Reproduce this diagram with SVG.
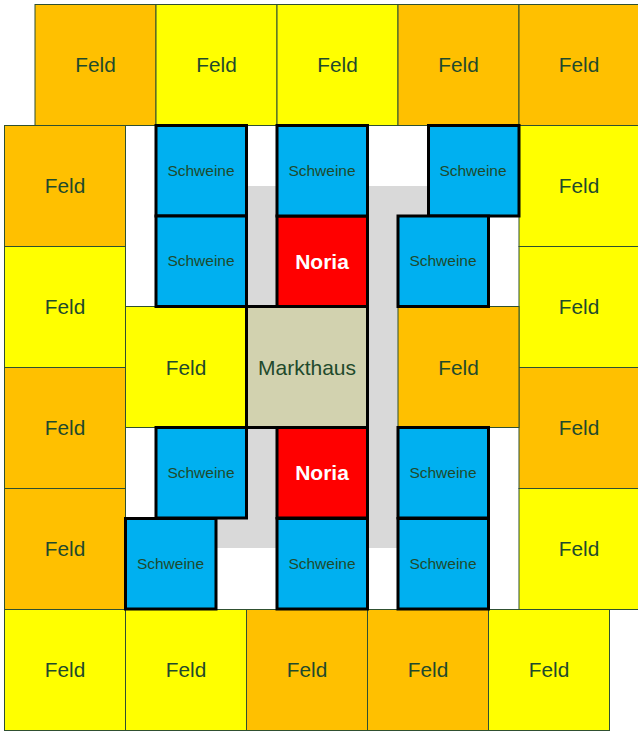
<svg xmlns="http://www.w3.org/2000/svg" width="638" height="731" viewBox="0 0 638 731">
<style>
.f rect{stroke:#2F5030;stroke-width:1}
.o{fill:#FFC000}
.y{fill:#FFFF00}
.s rect{fill:#00B0F0;stroke:#000;stroke-width:3}
.n rect{fill:#FF0000;stroke:#000;stroke-width:3}
.m rect{fill:#D2D2AF;stroke:#000;stroke-width:3}
text{font-family:"Liberation Sans",Arial,sans-serif;text-anchor:middle;dominant-baseline:central;fill:#1F4A2C}
.f text{font-size:20.8px}
.s text{font-size:15.5px}
.n text{font-size:21px;font-weight:bold;fill:#fff}
.m text{font-size:21px}
</style>
<rect width="638" height="731" fill="#fff"/>
<rect id="road" x="216" y="186" width="212" height="362" fill="#D9D9D9"/>
<!-- top row -->
<g id="f1" class="f"><rect class="o" x="35" y="4.5" width="121" height="121"/><text x="95.5" y="64">Feld</text></g>
<g id="f2" class="f"><rect class="y" x="156" y="4.5" width="121" height="121"/><text x="216.5" y="64">Feld</text></g>
<g id="f3" class="f"><rect class="y" x="277" y="4.5" width="121" height="121"/><text x="337.5" y="64">Feld</text></g>
<g id="f4" class="f"><rect class="o" x="398" y="4.5" width="121" height="121"/><text x="458.5" y="64">Feld</text></g>
<g id="f5" class="f"><rect class="o" x="519" y="4.5" width="121" height="121"/><text x="579" y="64">Feld</text></g>
<!-- left column -->
<g id="f6" class="f"><rect class="o" x="4.5" y="125.5" width="121" height="121"/><text x="65" y="185">Feld</text></g>
<g id="f7" class="f"><rect class="y" x="4.5" y="246.5" width="121" height="121"/><text x="65" y="306">Feld</text></g>
<g id="f8" class="f"><rect class="o" x="4.5" y="367.5" width="121" height="121"/><text x="65" y="427">Feld</text></g>
<g id="f9" class="f"><rect class="o" x="4.5" y="488.5" width="121" height="121"/><text x="65" y="548">Feld</text></g>
<!-- right column -->
<g id="f10" class="f"><rect class="y" x="519" y="125.5" width="121" height="121"/><text x="579" y="185">Feld</text></g>
<g id="f11" class="f"><rect class="y" x="519" y="246.5" width="121" height="121"/><text x="579" y="306">Feld</text></g>
<g id="f12" class="f"><rect class="o" x="519" y="367.5" width="121" height="121"/><text x="579" y="427">Feld</text></g>
<g id="f13" class="f"><rect class="y" x="519" y="488.5" width="121" height="121"/><text x="579" y="548">Feld</text></g>
<!-- bottom row -->
<g id="f14" class="f"><rect class="y" x="4.5" y="609.5" width="121" height="121"/><text x="65" y="669">Feld</text></g>
<g id="f15" class="f"><rect class="y" x="125.5" y="609.5" width="121" height="121"/><text x="186" y="669">Feld</text></g>
<g id="f16" class="f"><rect class="o" x="246.5" y="609.5" width="121" height="121"/><text x="307" y="669">Feld</text></g>
<g id="f17" class="f"><rect class="o" x="367.5" y="609.5" width="121" height="121"/><text x="428" y="669">Feld</text></g>
<g id="f18" class="f"><rect class="y" x="488.5" y="609.5" width="121" height="121"/><text x="549" y="669">Feld</text></g>
<!-- middle fields -->
<g id="f19" class="f"><rect class="y" x="125.5" y="306.5" width="121" height="121"/><text x="186" y="367">Feld</text></g>
<g id="f20" class="f"><rect class="o" x="398" y="306.5" width="121" height="121"/><text x="458.5" y="367">Feld</text></g>
<!-- Markthaus -->
<g id="markthaus" class="m"><rect x="246.5" y="306.5" width="121" height="121"/><text x="307" y="367">Markthaus</text></g>
<!-- Noria -->
<g id="noria1" class="n"><rect x="277" y="216" width="90.5" height="90.5"/><text x="322" y="261">Noria</text></g>
<g id="noria2" class="n"><rect x="277" y="427.5" width="90.5" height="90.5"/><text x="322" y="472">Noria</text></g>
<!-- Schweine -->
<g id="s1" class="s"><rect x="156" y="125.5" width="90.5" height="90.5"/><text x="201" y="170.5">Schweine</text></g>
<g id="s2" class="s"><rect x="156" y="216" width="90.5" height="90.5"/><text x="201" y="260.5">Schweine</text></g>
<g id="s3" class="s"><rect x="277" y="125.5" width="90.5" height="90.5"/><text x="322" y="170.5">Schweine</text></g>
<g id="s4" class="s"><rect x="428.5" y="125.5" width="90.5" height="90.5"/><text x="473" y="170.5">Schweine</text></g>
<g id="s5" class="s"><rect x="398" y="216" width="90.5" height="90.5"/><text x="443" y="260.5">Schweine</text></g>
<g id="s6" class="s"><rect x="156" y="427.5" width="90.5" height="90.5"/><text x="201" y="472">Schweine</text></g>
<g id="s7" class="s"><rect x="125.5" y="518.5" width="90.5" height="90.5"/><text x="170.5" y="563">Schweine</text></g>
<g id="s8" class="s"><rect x="277" y="518.5" width="90.5" height="90.5"/><text x="322" y="563">Schweine</text></g>
<g id="s9" class="s"><rect x="398" y="427.5" width="90.5" height="90.5"/><text x="443" y="472">Schweine</text></g>
<g id="s10" class="s"><rect x="398" y="518.5" width="90.5" height="90.5"/><text x="443" y="563">Schweine</text></g>
<g id="connectors"></g>
</svg>
